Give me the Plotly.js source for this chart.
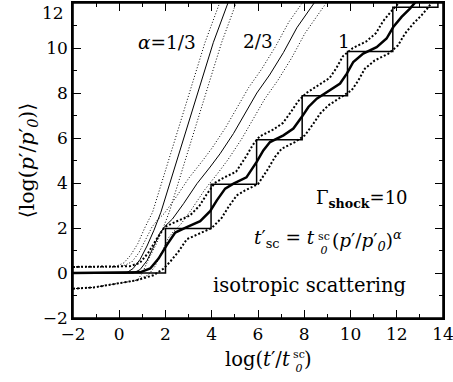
<!DOCTYPE html>
<html><head><meta charset="utf-8">
<script src="https://cdn.plot.ly/plotly-3.0.1.min.js"></script>
<style>html,body{margin:0;padding:0;background:#fff}#c{width:453px;height:382px}</style>
</head><body><div id="c"></div>
<script>
// staircase (edges and levels)
const stepEdges  = [-2, 2, 3.97, 5.94, 7.91, 9.87, 11.83, 13.78];
const stepLevels = [0, 1.98, 3.95, 5.92, 7.88, 9.85, 11.81, 13.7];

// alpha = 1 (thick)
const a1X = [-2,0.5,0.9,1.34,1.7,2.06,2.42,2.92,3.5,3.93,4.22,4.58,4.94,5.5,5.95,6.23,6.52,7.1,7.53,7.89,8.18,8.54,9.11,9.55,9.84,10.12,10.55,11.13,11.56,11.85,12.21,12.57,12.86,13.0];
const a1Y = [0,0,0.03,0.2,0.64,1.25,1.8,2.04,2.3,2.75,3.23,3.75,3.97,4.25,4.95,5.45,5.82,6.12,6.42,6.93,7.38,7.75,8.12,8.42,8.86,9.38,9.75,10.04,10.42,10.93,11.38,11.75,12.1,12.3];
const a1UpX = [-2,0.0,0.45,0.89,1.25,1.61,1.97,2.47,3.05,3.48,3.77,4.13,4.49,5.05,5.5,5.78,6.07,6.65,7.08,7.44,7.73,8.09,8.66,9.1,9.39,9.67,10.1,10.68,11.11,11.4,11.76,12.12,12.41];
const a1UpY = [0.27,0.27,0.3,0.45,0.89,1.5,2.05,2.29,2.55,3.0,3.48,4.0,4.22,4.5,5.2,5.7,6.07,6.37,6.67,7.18,7.63,8.0,8.37,8.67,9.11,9.63,10.0,10.29,10.67,11.18,11.63,12.0,12.35];
const a1LoX = [-2,-1.1,-0.1,0.76,1.48,1.91,2.2,2.56,2.92,3.42,4.0,4.43,4.72,5.08,5.44,6.0,6.45,6.73,7.02,7.6,8.03,8.39,8.68,9.04,9.61,10.05,10.34,10.62,11.05,11.63,12.06,12.35,12.71,13.07,13.36,13.5,13.7];
const a1LoY = [-0.7,-0.64,-0.47,-0.32,-0.1,0.19,0.5,0.95,1.5,1.74,2.0,2.45,2.93,3.45,3.67,3.95,4.65,5.15,5.52,5.82,6.12,6.63,7.08,7.45,7.82,8.12,8.56,9.08,9.45,9.74,10.12,10.63,11.08,11.45,11.8,12.0,12.3];

// alpha = 2/3
const a23X = [-2,0.6,0.9,1.2,1.5,1.77,2.0,2.3,2.78,3.36,3.93,4.36,4.94,5.52,5.95,6.5,7.1,7.68,8.1,8.5,8.7];
const a23Y = [0,0,0.15,0.55,1.2,1.8,2.1,2.4,3.08,3.97,4.71,5.3,6.2,7.23,8.0,8.8,9.8,10.9,11.5,12.1,12.4];
const a23UpX = [-2,0.0,0.25,0.55,0.85,1.15,1.42,1.65,1.95,2.43,3.01,3.58,4.01,4.59,5.17,5.6,6.15,6.75,7.33,7.75,8.15];
const a23UpY = [0.27,0.27,0.35,0.5,0.9,1.5,2.05,2.35,2.65,3.33,4.22,4.96,5.55,6.45,7.48,8.25,9.05,10.05,11.15,11.75,12.35];
const a23LoX = [-2,-1.1,-0.1,0.76,1.1,1.25,1.55,1.85,2.12,2.35,2.65,3.13,3.71,4.28,4.71,5.29,5.87,6.3,6.85,7.45,8.03,8.45,8.85,9.05];
const a23LoY = [-0.7,-0.64,-0.47,-0.32,-0.15,-0.1,0.3,0.95,1.55,1.85,2.15,2.83,3.72,4.46,5.05,5.95,6.98,7.75,8.55,9.55,10.65,11.25,11.85,12.15];

// alpha = 1/3
const a13X = [-2,0.3,0.6,0.9,1.2,1.5,1.8,2.1,2.57,3.14,3.6,4.07,4.7,4.8];
const a13Y = [0,0,0.2,0.6,1.2,1.9,2.7,3.7,5.3,7.2,8.7,10.25,12.0,12.3];
const a13UpX = [-2,-0.2,0.2,0.5,0.8,1.1,1.44,1.74,2.21,2.78,3.24,3.71,4.34,4.45];
const a13UpY = [0.27,0.27,0.45,0.8,1.3,2.0,2.7,3.7,5.3,7.2,8.7,10.25,12.0,12.3];
const a13LoX = [-2,-1.1,-0.1,0.5,0.8,1.0,1.26,1.56,1.86,2.16,2.46,2.93,3.5,3.96,4.43,5.06,5.16];
const a13LoY = [-0.7,-0.64,-0.47,-0.38,-0.3,0.0,0.6,1.2,1.9,2.7,3.7,5.3,7.2,8.7,10.25,12.0,12.3];

// axes
const xRange = [-2, 14], yRange = [-2, 12];
const xTicks = [-2, 0, 2, 4, 6, 8, 10, 12, 14];
const xTickText = ['−2', '0', '2', '4', '6', '8', '10', '12', '14'];
const yTicks = [-2, 0, 2, 4, 6, 8, 10, 12];
const yTickText = ['−2', '0', '2', '4', '6', '8', '10', ''];   // "12" is drawn just below its tick, as in the original
const yTopLabel = '12';

const F = "DejaVu Serif";
function ln(x, y, w, dash, name, shape){
  return {x:x, y:y, type:'scatter', mode:'lines', name:name, hoverinfo:'skip',
    line:{color:'#000', width:w, dash:dash||'solid', shape:shape||'linear'}};
}
const thinDot = '1px,2px', thickDot = '2px,2px';
const data = [
  ln(stepEdges, stepLevels, 1.5, 'solid', 'steps', 'hv'),
  ln(a13UpX, a13UpY, 1, thinDot, 'a13 up'),
  ln(a13LoX, a13LoY, 1, thinDot, 'a13 lo'),
  ln(a13X, a13Y, 1, 'solid', 'alpha=1/3'),
  ln(a23UpX, a23UpY, 1, thinDot, 'a23 up'),
  ln(a23LoX, a23LoY, 1, thinDot, 'a23 lo'),
  ln(a23X, a23Y, 1, 'solid', 'alpha=2/3'),
  ln(a1UpX, a1UpY, 2, thickDot, 'a1 up'),
  ln(a1LoX, a1LoY, 2, thickDot, 'a1 lo'),
  ln(a1X, a1Y, 2.5, 'solid', 'alpha=1')
];
const axisCommon = {
  showgrid:false, zeroline:false, showline:true, linecolor:'#000', linewidth:1.6,
  mirror:'ticks', ticks:'inside', ticklen:8, tickwidth:1.3, tickcolor:'#000',
  tickmode:'array', ticklabeloverflow:'allow',
  minor:{dtick:1, tick0:-2, ticks:'inside', ticklen:4, tickwidth:1.3, tickcolor:'#000'},
  tickfont:{family:F, size:17, color:'#000'}
};
const layout = {
  width:453, height:382, showlegend:false,
  margin:{l:73, r:10, t:3, b:64},
  font:{family:F, color:'#000'},
  xaxis:Object.assign({}, axisCommon, {range:xRange, tickvals:xTicks, ticktext:xTickText}),
  yaxis:Object.assign({}, axisCommon, {range:yRange, tickvals:yTicks, ticktext:yTickText,
    title:{text:'⟨log(<i>p</i>′/<i>p</i>′<sub><i>0</i></sub>)⟩', font:{family:F, size:20.5}, standoff:3}}),
  shapes:[
    {type:'rect', xref:'paper', yref:'paper', x0:0, x1:1, y0:0, y1:1, line:{color:'#000', width:1.6}, layer:'above'}
  ],
  annotations:[
    {x:0, y:12, xref:'paper', yref:'y', xanchor:'right', yanchor:'top', xshift:-7, yshift:2, showarrow:false,
     text:yTopLabel, font:{family:F, size:17}},
    // x-axis title, in pieces so that "sc" sits over the subscript 0
    {x:0.592, y:-0.133, xref:'paper', yref:'paper', xanchor:'right', yanchor:'middle', showarrow:false,
     text:'log(<i>t</i>′/<i>t</i>', font:{family:F, size:19.5}},
    {x:0.589, y:-0.137, xref:'paper', yref:'paper', xanchor:'left', yanchor:'middle', showarrow:false,
     text:'sc<br><i>0</i>', font:{family:F, size:11}},
    {x:0.618, y:-0.133, xref:'paper', yref:'paper', xanchor:'left', yanchor:'middle', showarrow:false,
     text:')', font:{family:F, size:19.5}},
    // curve labels
    {x:2.07, y:10.25, xref:'x', yref:'y', text:'<i>α</i>=1/3', showarrow:false, font:{family:F, size:18.5}},
    {x:5.98, y:10.3, xref:'x', yref:'y', text:'2/3', showarrow:false, font:{family:F, size:18.5}},
    {x:9.72, y:10.3, xref:'x', yref:'y', text:'1', showarrow:false, font:{family:F, size:18.5}},
    {x:12.57, y:3.28, xref:'x', yref:'y', xanchor:'right', text:'Γ<sub><b>shock</b></sub>=10', showarrow:false, font:{family:F, size:18}},
    // formula in pieces
    {x:8.55, y:1.5, xref:'x', yref:'y', xanchor:'right', text:'<i>t</i>′<sub>sc</sub> = <i>t</i>', showarrow:false, font:{family:F, size:18.5}},
    {x:8.5, y:1.33, xref:'x', yref:'y', xanchor:'left', text:'sc<br><i>0</i>', showarrow:false, font:{family:F, size:11}},
    {x:9.1, y:1.45, xref:'x', yref:'y', xanchor:'left', text:'(<i>p</i>′/<i>p</i>′<sub><i>0</i></sub>)<sup><i>α</i></sup>', showarrow:false, font:{family:F, size:18.5}},
    {x:12.48, y:-0.55, xref:'x', yref:'y', xanchor:'right', text:'isotropic scattering', showarrow:false, font:{family:F, size:19.5}}
  ]
};
Plotly.newPlot('c', data, layout, {displayModeBar:false});
</script></body></html>
